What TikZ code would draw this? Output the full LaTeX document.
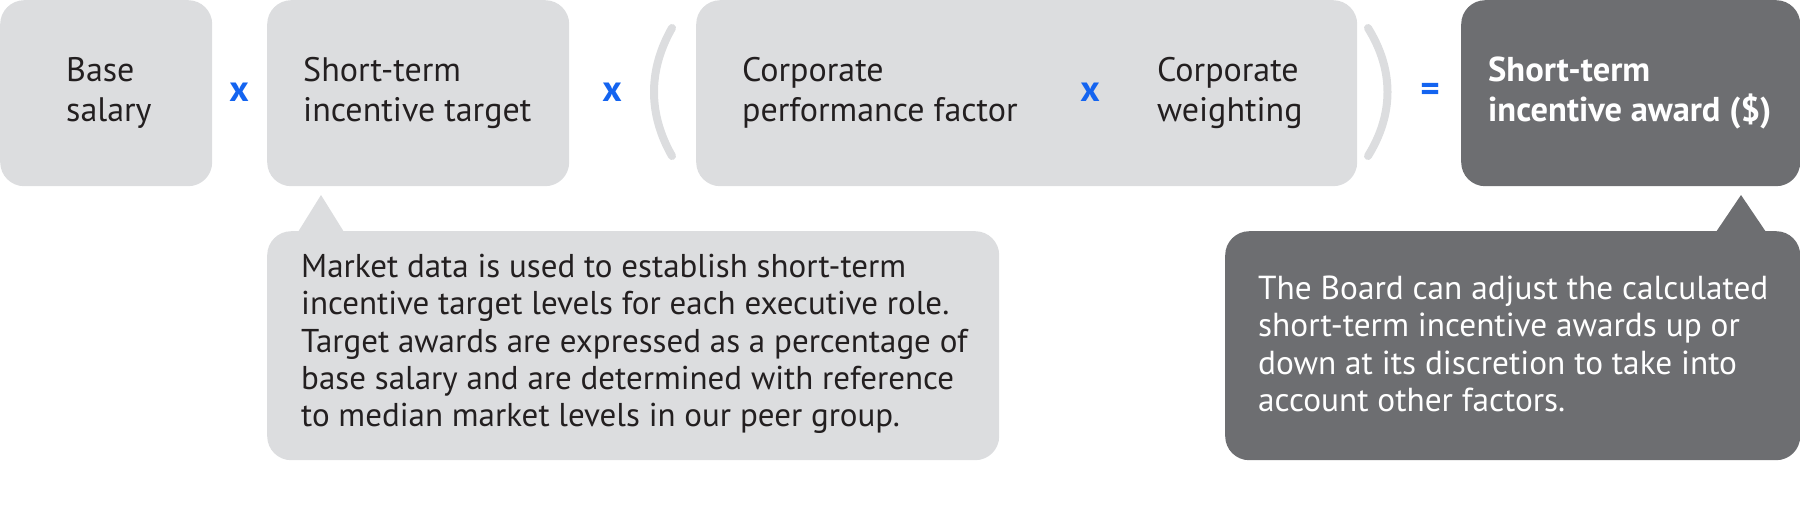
\documentclass[tikz,border=0pt]{standalone}
\usepackage{fontspec}
\setmainfont{PT Sans}
\definecolor{lightbox}{HTML}{DCDDDF}
\definecolor{darkbox}{HTML}{6D6E71}
\definecolor{opblue}{HTML}{1464F0}
\definecolor{txt}{HTML}{231F20}
\tikzset{
  box/.style={fill=lightbox, rounded corners=24pt, inner sep=0pt, anchor=north west},
  dbox/.style={fill=darkbox, rounded corners=24pt, inner sep=0pt, anchor=north west},
  lbl/.style={anchor=west, align=left, inner sep=0pt, text=txt, font=\fontsize{34}{40}\selectfont},
  dlbl/.style={anchor=west, align=left, inner sep=0pt, text=white, font=\fontsize{34.5}{40}\selectfont\bfseries},
  clbl/.style={anchor=west, align=left, inner sep=0pt, text=txt, font=\fontsize{33}{37.4}\selectfont},
  wlbl/.style={anchor=west, align=left, inner sep=0pt, text=white, font=\fontsize{33.3}{37.4}\selectfont},
  op/.style={text=opblue, inner sep=0pt, font=\fontsize{37}{37}\selectfont\bfseries},
  paren/.style={draw=lightbox, line width=8pt, line cap=round},
}
\begin{document}
\begin{tikzpicture}[x=1pt,y=-1pt]
\useasboundingbox (0,0) rectangle (1800,509);
% top row
\node[box, minimum width=212pt, minimum height=186pt] (base) at (0,0) {};
\node[lbl] (baseT) at (66,93) {Base\\salary};
\node[op] (x1) at (239,92) {x};
\node[box, minimum width=302pt, minimum height=186pt] (stit) at (267,0) {};
\node[lbl] (stitT) at (303,93) {Short-term\\incentive target};
\node[op] (x2) at (612,92) {x};
\node[box, minimum width=661pt, minimum height=186pt] (corp) at (696,0) {};
\node[lbl] (cpfT) at (742,93) {Corporate\\performance factor};
\node[op] (x3) at (1090,92) {x};
\node[lbl] (cwT) at (1157,93) {Corporate\\weighting};
\node[op] (eq) at (1430,92) {=};
\node[dbox, minimum width=339pt, minimum height=186pt] (award) at (1461,0) {};
\node[dlbl] (awardT) at (1488,93) {Short-term\\incentive award (\$)};
% parentheses
\coordinate (lpt) at (672,28);
\coordinate (lpb) at (672,156);
\coordinate (rpt) at (1368,28);
\coordinate (rpb) at (1368,156);
\draw[paren] (lpt) .. controls (648,70) and (648,114) .. (lpb);
\draw[paren] (rpt) .. controls (1394,70) and (1394,114) .. (rpb);
% callouts
\fill[lightbox] (298,232) -- (321,195) -- (344,232) -- cycle;
\node[box, minimum width=732pt, minimum height=229pt] (note1) at (267,231) {};
\node[clbl] (note1T) at (301,344) {Market data is used to establish short-term\\incentive target levels for each executive role.\\Target awards are expressed as a percentage of\\base salary and are determined with reference\\to median market levels in our peer group.};
\fill[darkbox] (1716,232) -- (1741,195) -- (1766,232) -- cycle;
\node[dbox, minimum width=575pt, minimum height=229pt] (note2) at (1225,231) {};
\node[wlbl] (note2T) at (1258,344) {The Board can adjust the calculated\\short-term incentive awards up or\\down at its discretion to take into\\account other factors.};
\end{tikzpicture}
\end{document}
